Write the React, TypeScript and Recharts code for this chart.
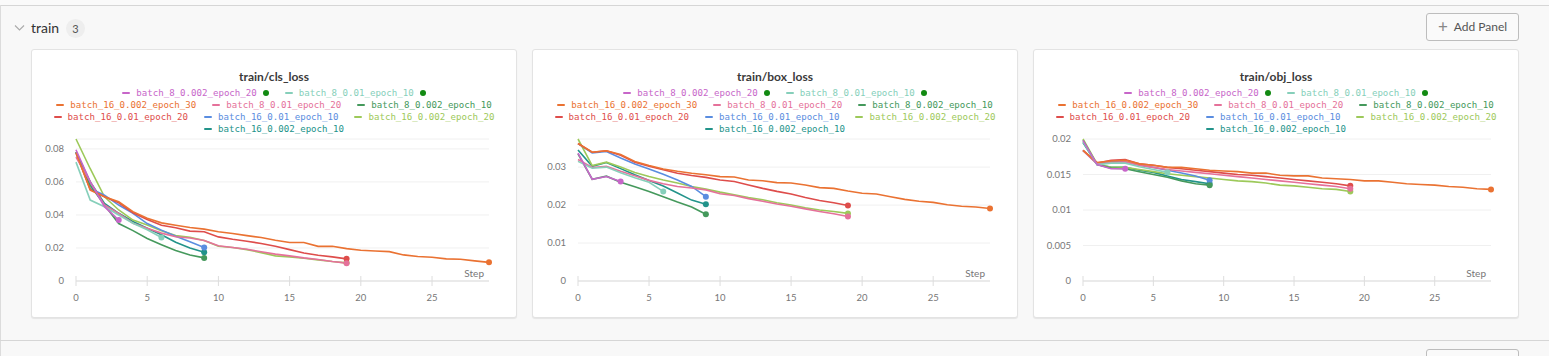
import { LineChart, Line, XAxis, YAxis, CartesianGrid, Label } from 'recharts';

// run names / colours in legend order
const runNames = [
  'batch_8_0.002_epoch_20',
  'batch_8_0.01_epoch_10',
  'batch_16_0.002_epoch_30',
  'batch_8_0.01_epoch_20',
  'batch_8_0.002_epoch_10',
  'batch_16_0.01_epoch_20',
  'batch_16_0.01_epoch_10',
  'batch_16_0.002_epoch_20',
  'batch_16_0.002_epoch_10',
];
const runColors = ['#c766c9', '#86cfba', '#ea7232', '#e5719a', '#45995c', '#de4d4b', '#5a8de0', '#9dc95a', '#22938a'];
const runLive = [true, true, false, false, false, false, false, false, false];

const xTicks = [0, 5, 10, 15, 20, 25];

// train/cls_loss, one array per run (index = step)
const clsLoss = [
  [0.0795, 0.06, 0.045, 0.0369],
  [0.072, 0.049, 0.045, 0.04, 0.035, 0.031, 0.0263],
  [0.0778, 0.055, 0.051, 0.048, 0.042, 0.038, 0.0352, 0.0338, 0.0324, 0.0314, 0.0298, 0.0288, 0.0275, 0.0263, 0.0247, 0.0233, 0.0233, 0.021, 0.021, 0.0196, 0.0186, 0.0182, 0.0178, 0.0158, 0.0148, 0.0144, 0.0134, 0.0132, 0.0122, 0.0113],
  [0.075, 0.06, 0.046, 0.041, 0.035, 0.032, 0.029, 0.0268, 0.026, 0.0245, 0.0213, 0.0203, 0.0192, 0.0177, 0.0163, 0.0152, 0.014, 0.013, 0.0118, 0.0108],
  [0.078, 0.058, 0.046, 0.0348, 0.0305, 0.0257, 0.022, 0.0185, 0.0158, 0.014],
  [0.0774, 0.0555, 0.051, 0.0474, 0.0413, 0.0373, 0.0338, 0.0322, 0.0302, 0.0298, 0.0267, 0.0253, 0.0241, 0.0227, 0.0211, 0.019, 0.017, 0.0156, 0.0146, 0.0134],
  [0.078, 0.056, 0.052, 0.046, 0.041, 0.0348, 0.0308, 0.0271, 0.0237, 0.0203],
  [0.086, 0.068, 0.051, 0.043, 0.0369, 0.0339, 0.0305, 0.0275, 0.0265, 0.0245, 0.021, 0.0203, 0.019, 0.0172, 0.0152, 0.0146, 0.0138, 0.0128, 0.0118, 0.011],
  [0.078, 0.06, 0.047, 0.041, 0.036, 0.032, 0.028, 0.0235, 0.02, 0.0174],
];

// train/box_loss
const boxLoss = [
  [0.0337, 0.0268, 0.0275, 0.0262],
  [0.0315, 0.0297, 0.03, 0.0285, 0.0272, 0.026, 0.0236],
  [0.0362, 0.0339, 0.0343, 0.0333, 0.0315, 0.0304, 0.0295, 0.0289, 0.0284, 0.028, 0.0275, 0.0274, 0.0266, 0.0264, 0.0259, 0.0258, 0.0253, 0.0246, 0.0244, 0.0237, 0.0231, 0.0229, 0.0222, 0.0215, 0.021, 0.0207, 0.0201, 0.0197, 0.0195, 0.0191],
  [0.032, 0.0299, 0.0302, 0.0289, 0.0277, 0.0265, 0.0256, 0.0249, 0.0245, 0.024, 0.023, 0.0225, 0.0217, 0.021, 0.0203, 0.0197, 0.019, 0.0183, 0.0177, 0.017],
  [0.0335, 0.0268, 0.0276, 0.026, 0.0248, 0.0236, 0.0222, 0.0208, 0.0195, 0.0176],
  [0.0362, 0.0339, 0.0343, 0.0331, 0.0313, 0.0302, 0.0293, 0.0284, 0.0278, 0.0273, 0.0266, 0.0262, 0.0253, 0.0244, 0.0236, 0.0229, 0.022, 0.0212, 0.0206, 0.0199],
  [0.0362, 0.0337, 0.0341, 0.0324, 0.0308, 0.0295, 0.0281, 0.0266, 0.0249, 0.0222],
  [0.0374, 0.0304, 0.0313, 0.03, 0.0286, 0.0275, 0.0266, 0.0258, 0.0249, 0.0242, 0.0234, 0.0227, 0.022, 0.0214, 0.0206, 0.02, 0.0193, 0.0187, 0.0183, 0.0178],
  [0.0345, 0.0302, 0.0312, 0.0296, 0.028, 0.0265, 0.025, 0.0232, 0.0213, 0.0202],
];

// train/obj_loss
const objLoss = [
  [0.0198, 0.0164, 0.0158, 0.0158],
  [0.0196, 0.0164, 0.0166, 0.0166, 0.0161, 0.0157, 0.0153],
  [0.0184, 0.0167, 0.0169, 0.017, 0.0165, 0.0163, 0.016, 0.016, 0.0158, 0.0156, 0.0155, 0.0154, 0.0152, 0.0152, 0.0149, 0.0148, 0.0148, 0.0145, 0.0144, 0.0143, 0.0141, 0.0141, 0.0139, 0.0137, 0.0136, 0.0135, 0.0133, 0.0132, 0.013, 0.0129],
  [0.0184, 0.0165, 0.0167, 0.0168, 0.0163, 0.016, 0.0157, 0.0155, 0.0153, 0.0151, 0.0149, 0.0147, 0.0145, 0.0143, 0.0141, 0.0139, 0.0137, 0.0135, 0.0133, 0.013],
  [0.0198, 0.0164, 0.0159, 0.0158, 0.0154, 0.015, 0.0146, 0.0141, 0.0137, 0.0135],
  [0.0184, 0.0166, 0.017, 0.0171, 0.0165, 0.0163, 0.016, 0.0158, 0.0156, 0.0154, 0.0152, 0.015, 0.0149, 0.0147, 0.0145, 0.0143, 0.0141, 0.0139, 0.0137, 0.0134],
  [0.0184, 0.0165, 0.0168, 0.0168, 0.0163, 0.016, 0.0156, 0.0152, 0.0148, 0.0142],
  [0.02, 0.0165, 0.016, 0.016, 0.0157, 0.0154, 0.0151, 0.0149, 0.0147, 0.0145, 0.0143, 0.0141, 0.014, 0.0138, 0.0135, 0.0134, 0.0132, 0.013, 0.0129, 0.0126],
  [0.0195, 0.0164, 0.016, 0.016, 0.0156, 0.0153, 0.0148, 0.0143, 0.014, 0.0137],
];

const clsTicks = [0, 0.02, 0.04, 0.06, 0.08];
const boxTicks = [0, 0.01, 0.02, 0.03];
const objTicks = [0, 0.005, 0.01, 0.015, 0.02];

// legend rows (run indices)
const legendRows = [[0, 1], [2, 3, 4], [5, 6, 7], [8]];

const AXIS_FONT = 'Lato, "DejaVu Sans", sans-serif';

function buildRows(series: number[][]) {
  const maxLen = Math.max(...series.map((s) => s.length));
  const rows: Record<string, number>[] = [];
  for (let step = 0; step < maxLen; step++) {
    const row: Record<string, number> = { step };
    series.forEach((s, r) => {
      if (step < s.length) row[`r${r}`] = s[step];
    });
    rows.push(row);
  }
  return rows;
}

const XTick = ({ x, y, payload }: any) => (
  <g>
    <line x1={x} x2={x} y1={y - 18} y2={y - 8} stroke="#ddd" />
    <text x={x} y={y} dy="0.71em" textAnchor="middle" fill="#777" fontSize={9.5} fontFamily={AXIS_FONT}>
      {payload.value}
    </text>
  </g>
);

const StepLabel = ({ viewBox }: any) => (
  <text
    x={viewBox.x + viewBox.width - 5}
    y={viewBox.y - 8}
    dy="0.35em"
    textAnchor="end"
    fill="#777"
    fontSize={10}
    fontFamily={AXIS_FONT}
  >
    Step
  </text>
);

function LegendItem({ i }: { i: number }) {
  return (
    <span style={{ display: 'inline-flex', alignItems: 'center', color: runColors[i], whiteSpace: 'nowrap' }}>
      <span style={{ width: 8, height: 2, borderRadius: 1, background: runColors[i], marginRight: 6 }} />
      <span>{runNames[i]}</span>
      {runLive[i] && (
        <span style={{ width: 6, height: 6, borderRadius: 3, background: '#128a12', marginLeft: 6 }} />
      )}
    </span>
  );
}

interface PanelProps {
  left: number;
  title: string;
  series: number[][];
  ticks: number[];
  yWidth: number;
}

function Panel({ left, title, series, ticks, yWidth }: PanelProps) {
  const data = buildRows(series);
  return (
    <div
      style={{
        position: 'absolute',
        left,
        top: 49,
        width: 486,
        height: 269,
        boxSizing: 'border-box',
        background: '#fff',
        border: '1px solid #e3e3e3',
        borderRadius: 3,
        boxShadow: '0 1px 1px rgba(0,0,0,0.08)',
      }}
    >
      <div
        style={{
          position: 'absolute',
          top: 20,
          left: 0,
          width: '100%',
          textAlign: 'center',
          fontFamily: AXIS_FONT,
          fontWeight: 700,
          fontSize: 12,
          lineHeight: '14px',
          color: '#3a3a3a',
        }}
      >
        {title}
      </div>
      <div
        style={{
          position: 'absolute',
          top: 37,
          left: 0,
          width: '100%',
          fontFamily: '"DejaVu Sans Mono", monospace',
          fontSize: 9.1,
        }}
      >
        {legendRows.map((row, k) => (
          <div key={k} style={{ display: 'flex', justifyContent: 'center', gap: 16, height: 12.1, lineHeight: '12px' }}>
            {row.map((i) => (
              <LegendItem key={i} i={i} />
            ))}
          </div>
        ))}
      </div>
      <div style={{ position: 'absolute', top: 80, left: 0 }}>
        <LineChart width={484} height={187} data={data} margin={{ top: 9, right: 27, bottom: 12, left: 0 }}>
          <CartesianGrid vertical={false} stroke="#f0f0f0" />
          <XAxis
            dataKey="step"
            type="number"
            domain={[0, 29]}
            ticks={xTicks}
            axisLine={{ stroke: '#ddd' }}
            tickLine={false}
            tickSize={5}
            tickMargin={8}
            height={24}
            tick={<XTick />}
          >
            <Label content={<StepLabel />} />
          </XAxis>
          <YAxis
            type="number"
            domain={[0, 'dataMax']}
            ticks={ticks}
            axisLine={false}
            tickLine={false}
            tickSize={0}
            tickMargin={12}
            width={yWidth}
            tick={{ fill: '#777', fontSize: 9.5, fontFamily: AXIS_FONT }}
          />
          {series
            .map((s, r) => (
              <Line
                key={r}
                type="linear"
                dataKey={`r${r}`}
                stroke={runColors[r]}
                strokeWidth={1.6}
                isAnimationActive={false}
                dot={(p: any) =>
                  p.index === s.length - 1 ? (
                    <circle key={`d${r}`} cx={p.cx} cy={p.cy} r={3} fill={runColors[r]} />
                  ) : (
                    <g key={`d${r}-${p.index}`} />
                  )
                }
                activeDot={false}
              />
            ))
            .reverse()}
        </LineChart>
      </div>
    </div>
  );
}

export default function App() {
  return (
    <div
      style={{
        position: 'fixed',
        left: 0,
        top: 0,
        width: 1549,
        height: 356,
        overflow: 'hidden',
        background: '#f8f8f8',
        fontFamily: AXIS_FONT,
      }}
    >
      <div style={{ position: 'absolute', left: 0, top: 0, width: 1549, height: 5, background: '#fafafa' }} />
      <div style={{ position: 'absolute', left: 0, top: 5, width: 1549, height: 1, background: '#d6d6d6' }} />
      <div style={{ position: 'absolute', left: 0, top: 5, width: 1, height: 351, background: '#dcdcdc' }} />
      <div style={{ position: 'absolute', left: 0, top: 340, width: 1549, height: 1, background: '#d6d6d6' }} />

      {/* section header */}
      <svg style={{ position: 'absolute', left: 14, top: 24 }} width={11} height={8}>
        <polyline points="1,1.5 5.5,6 10,1.5" fill="none" stroke="#aaa" strokeWidth={1.1} />
      </svg>
      <div style={{ position: 'absolute', left: 31, top: 19, fontSize: 14, color: '#333', lineHeight: '18px' }}>train</div>
      <div
        style={{
          position: 'absolute',
          left: 66,
          top: 19,
          width: 19,
          height: 19,
          borderRadius: 10,
          background: '#eeeeee',
          color: '#555',
          fontSize: 11,
          lineHeight: '19px',
          textAlign: 'center',
        }}
      >
        3
      </div>
      <div
        style={{
          position: 'absolute',
          left: 1426,
          top: 13,
          width: 93,
          height: 28,
          boxSizing: 'border-box',
          border: '1px solid #bdbdbd',
          borderRadius: 3,
          background: '#fafafa',
          color: '#555',
          fontSize: 12,
          lineHeight: '26px',
          textAlign: 'center',
        }}
      >
        <span style={{ fontSize: 17, color: '#888', marginRight: 6, verticalAlign: 'top' }}>+</span>Add Panel
      </div>
      <div
        style={{
          position: 'absolute',
          left: 1426,
          top: 349,
          width: 93,
          height: 28,
          boxSizing: 'border-box',
          border: '1px solid #bdbdbd',
          borderRadius: 3,
          background: '#fafafa',
        }}
      />

      <Panel left={31} title="train/cls_loss" series={clsLoss} ticks={clsTicks} yWidth={44} />
      <Panel left={532} title="train/box_loss" series={boxLoss} ticks={boxTicks} yWidth={45} />
      <Panel left={1033} title="train/obj_loss" series={objLoss} ticks={objTicks} yWidth={49} />
    </div>
  );
}
